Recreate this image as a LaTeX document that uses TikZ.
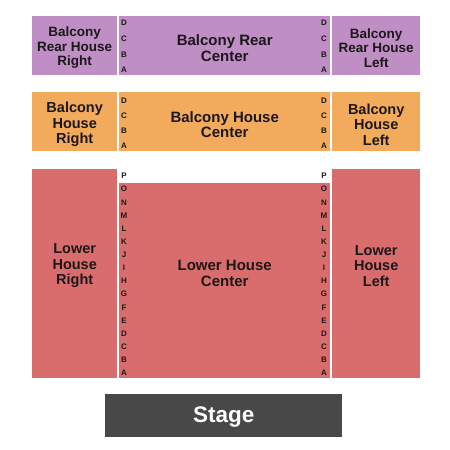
\documentclass[tikz,border=0pt]{standalone}
\usepackage{fontspec}
\setmainfont{Liberation Sans}
\usetikzlibrary{positioning}
\definecolor{rearcol}{RGB}{190,142,196}
\definecolor{housecol}{RGB}{242,170,92}
\definecolor{lowercol}{RGB}{217,108,108}
\definecolor{stagecol}{RGB}{72,72,72}
\definecolor{inkcol}{RGB}{28,24,26}
\tikzset{
  sect/.style    ={rectangle, inner sep=0pt, anchor=north west},
  rear/.style    ={sect, fill=rearcol},
  house/.style   ={sect, fill=housecol},
  lower/.style   ={sect, fill=lowercol},
  stagebox/.style={sect, fill=stagecol},
  lbl/.style     ={align=center, text=inkcol, inner sep=0pt,
                   font=\bfseries\fontsize{13.5}{14.5}\selectfont},
  lowLbl/.style  ={lbl, font=\bfseries\fontsize{14.5}{15.5}\selectfont},
  bigLbl/.style  ={lbl, font=\bfseries\fontsize{15}{15.5}\selectfont},
  rowlbl/.style  ={text=inkcol, inner sep=0pt, font=\bfseries\fontsize{8}{8}\selectfont},
}

\begin{document}
\begin{tikzpicture}[x=1pt, y=1pt]
    \useasboundingbox (0,0) rectangle (450,-450);
    % balcony rear
    \node[rear, minimum width=85, minimum height=59] (brr) at (32,-16) {};
    \node[rear, minimum width=211, minimum height=59] (brc) at (119,-16) {};
    \node[rear, minimum width=88, minimum height=59] (brl) at (332,-16) {};
    \node[lbl] (brrT) at ([yshift=-2]brr.center) {Balcony\\Rear House\\Right};
    \node[bigLbl] (brcT) at ([yshift=-2.5]brc.center) {Balcony Rear\\Center};
    \node[lbl] (brlT) at ([yshift=-2]brl.center) {Balcony\\Rear House\\Left};
    % balcony house
    \node[house, minimum width=85, minimum height=59] (bhr) at (32,-92) {};
    \node[house, minimum width=211, minimum height=59] (bhc) at (119,-92) {};
    \node[house, minimum width=88, minimum height=59] (bhl) at (332,-92) {};
    \node[lowLbl] (bhrT) at ([yshift=-3]bhr.center) {Balcony\\House\\Right};
    \node[bigLbl] (bhcT) at ([yshift=-3]bhc.center) {Balcony House\\Center};
    \node[lowLbl] (bhlT) at ([yshift=-3]bhl.center) {Balcony\\House\\Left};
    % lower house
    \node[lower, minimum width=85, minimum height=209] (lhr) at (32,-169) {};
    \node[lower, minimum width=211, minimum height=195] (lhc) at (119,-183) {};
    \node[lower, minimum width=88, minimum height=209] (lhl) at (332,-169) {};
    \node[lowLbl] (lhrT) at ([yshift=8]lhr.center) {Lower\\House\\Right};
    \node[bigLbl] (lhcT) at ([yshift=7.5]lhc.center) {Lower House\\Center};
    \node[lowLbl] (lhlT) at ([yshift=8]lhl.center) {Lower\\House\\Left};
    % stage
    \node[stagebox, minimum width=237, minimum height=43] (stg) at (105,-394) {};
    \node[lbl, text=white, font=\bfseries\fontsize{22.5}{24}\selectfont] (stgT)
      at ([yshift=-1]stg.center) {Stage};
    % row letters
    \foreach \r [count=\i from 0] in {D,C,B,A} {
      \node[rowlbl] (brR\i) at (124,-23-15.7*\i) {\r};
      \node[rowlbl] (brL\i) at (324,-23-15.7*\i) {\r};
      \node[rowlbl] (bhR\i) at (124,-101-15*\i) {\r};
      \node[rowlbl] (bhL\i) at (324,-101-15*\i) {\r};
    }
    \foreach \r [count=\i from 0] in {P,O,N,M,L,K,J,I,H,G,F,E,D,C,B,A} {
      \node[rowlbl] (lhR\i) at (124,-176-13.13*\i) {\r};
      \node[rowlbl] (lhL\i) at (324,-176-13.13*\i) {\r};
    }
  \end{tikzpicture}
\end{document}
